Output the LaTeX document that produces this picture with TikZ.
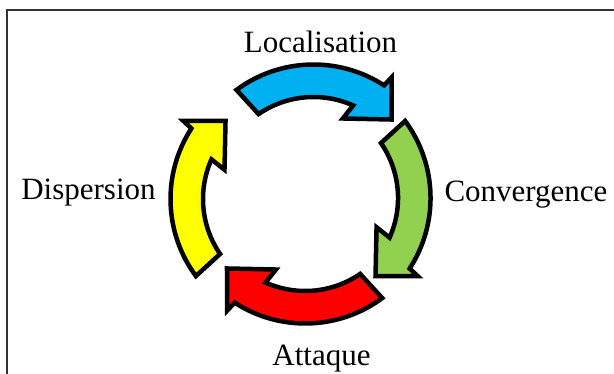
\documentclass[tikz,border=0pt]{standalone}
\usepackage{fontspec}
\setmainfont{Liberation Serif}
\usetikzlibrary{positioning}

\definecolor{locblue}{HTML}{00B0F0}
\definecolor{convgreen}{HTML}{92D050}
\definecolor{attred}{HTML}{FF0000}
\definecolor{dispyellow}{HTML}{FFFF00}

\begin{document}
\begin{tikzpicture}[x = 1pt, y = 1pt, phase/.style = {inner sep = 0pt, anchor = base, font = \fontsize{31}{37}\selectfont}, arrow body/.style = {draw = black, line width = 4.5pt}, phase arrow/.pic = {
  \path[pic actions] (126.5:129.5) arc[start angle = 126.5, end angle = 57, radius = 129.5] -- (56.2:140.4) -- (43.6:108) -- (68.8:81) -- (65.9:97) arc[start angle = 65.9, end angle = 124.5, radius = 97] -- cycle;
}]
\useasboundingbox (0,0) rectangle (614,373);
\clip (0,0) rectangle (614,373);
\draw[line width = 1.8pt, black!80] (7,-10) rectangle (640,363);

\begin{scope}[shift = {(300,179)}, xscale = 1.04]
\pic[arrow body, fill = locblue] at (13,0) {phase arrow};
\pic[arrow body, fill = convgreen, rotate = -90] at (1,-4) {phase arrow};
\pic[arrow body, fill = attred, rotate = 180] at (5,0) {phase arrow};
\pic[arrow body, fill = dispyellow, rotate = 90] at (0,-5) {phase arrow};
\end{scope}

\node[phase] (loc) at (320.5,320.3) {Localisation};
\node[phase] (conv) at (526,171.3) {Convergence};
\node[phase] (disp) at (88.5,173) {Dispersion};
\node[phase] (att) at (321.5,8) {Attaque};
\end{tikzpicture}
\end{document}
